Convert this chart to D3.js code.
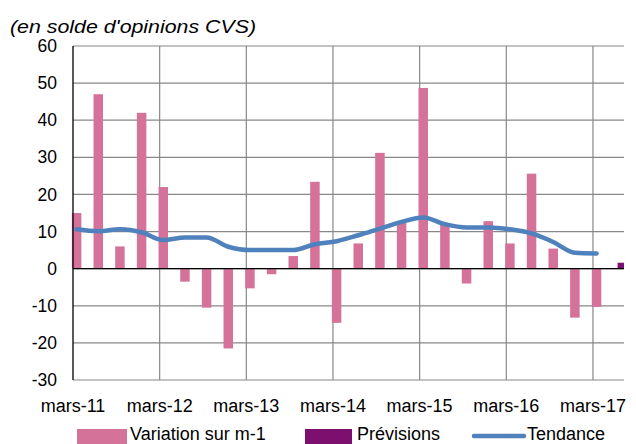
<!DOCTYPE html>
<html><head><meta charset="utf-8">
<script src="https://cdn.jsdelivr.net/npm/d3@7"></script>
<style>body{margin:0;background:#fff;}svg{display:block;font-family:"Liberation Sans",Arial,sans-serif;}</style>
</head><body>
<svg id="c" width="636" height="444"></svg>
<script>
// ---- data ----
const xTickMonths = [0, 12, 24, 36, 48, 60, 72];
const xTickLabels = ["mars-11","mars-12","mars-13","mars-14","mars-15","mars-16","mars-17"];
const yTicks = [-30,-20,-10,0,10,20,30,40,50,60];
// quarterly observations, month index from mars-11
const months = [0,3,6,9,12,15,18,21,24,27,30,33,36,39,42,45,48,51,54,57,60,63,66,69,72];
const variation = [15, 47, 6, 42, 22, -3.5, -10.5, -21.5, -5.3, -1.5, 3.4, 23.4, -14.6, 6.8, 31.2, 12.3, 48.7, 11.8, -4, 12.8, 6.8, 25.6, 5.4, -13.2, -10.3];
const tendance  = [10.6, 10.1, 10.6, 9.8, 7.7, 8.4, 8.4, 5.9, 5.0, 5.0, 5.0, 6.6, 7.4, 9.0, 10.8, 12.6, 13.8, 12.0, 11.1, 11.1, 10.6, 9.5, 7.2, 4.3, 4.1];
const previsionMonths = [75];
const previsions = [1.6];
const legendLabels = ["Variation sur m-1","Prévisions","Tendance"];

// ---- layout ----
const svg = d3.select("#c");
const L = 73, R = 624, T = 46, B = 380;
const x = d3.scaleLinear().domain([0, 76.3]).range([L, R]);
const y = d3.scaleLinear().domain([-30, 60]).range([B, T]);
const pink = "#D4729A", purple = "#7D0F6F", blue = "#4F81BD", grid = "#888888";
const fs = 17.5;

// gridlines horizontal
svg.append("g").selectAll("line").data(yTicks).join("line")
  .attr("x1", L).attr("x2", R).attr("y1", d => y(d)).attr("y2", d => y(d))
  .attr("stroke", grid).attr("stroke-width", 1.2);
// gridlines vertical
svg.append("g").selectAll("line").data(xTickMonths.slice(1)).join("line")
  .attr("x1", d => x(d)).attr("x2", d => x(d)).attr("y1", T).attr("y2", B)
  .attr("stroke", grid).attr("stroke-width", 1.2);

// clip
svg.append("clipPath").attr("id","pc").append("rect").attr("x", L).attr("y", T-5).attr("width", R-L).attr("height", B-T+10);

// bars
const bw = 9.5;
svg.append("g").selectAll("rect").data(variation).join("rect")
  .attr("x", (d,i) => x(months[i] + 0.5) - bw/2)
  .attr("width", bw)
  .attr("y", d => y(Math.max(0,d)))
  .attr("height", d => Math.abs(y(d) - y(0)))
  .attr("fill", pink);

svg.append("g").attr("clip-path","url(#pc)").selectAll("rect").data(previsions).join("rect")
  .attr("x", (d,i) => x(previsionMonths[i] + 0.9) - 3.5)
  .attr("width", 7)
  .attr("y", d => y(Math.max(0,d)))
  .attr("height", d => Math.abs(y(d) - y(0)))
  .attr("fill", purple);

// zero line & left axis
svg.append("line").attr("x1", L).attr("x2", R).attr("y1", y(0)).attr("y2", y(0)).attr("stroke", "#000").attr("stroke-width", 1.3);
svg.append("line").attr("x1", L).attr("x2", L).attr("y1", T).attr("y2", B).attr("stroke", "#000").attr("stroke-width", 1.3);

// trend line
const line = d3.line().x((d,i) => x(months[i] + 0.5)).y(d => y(d)).curve(d3.curveMonotoneX);
svg.append("path").datum(tendance).attr("d", line).attr("fill","none")
  .attr("stroke", blue).attr("stroke-width", 4.5).attr("stroke-linecap","round").attr("stroke-linejoin","round");

// y labels
svg.append("g").selectAll("text").data(yTicks).join("text")
  .attr("x", 57).attr("y", d => y(d)).attr("dy", "0.35em").attr("text-anchor","end")
  .attr("font-size", fs).attr("fill","#000").text(d => d);

// x labels
svg.append("g").selectAll("text").data(xTickMonths).join("text")
  .attr("x", d => x(d)).attr("y", 412).attr("text-anchor","middle")
  .attr("font-size", 18).attr("fill","#000").text((d,i) => xTickLabels[i]);

// title
svg.append("text").attr("x", 10).attr("y", 33).attr("font-size", 19).attr("font-style","italic")
  .attr("textLength", 246).attr("lengthAdjust","spacingAndGlyphs")
  .attr("fill","#000").text("(en solde d'opinions CVS)");

// legend
const lg = svg.append("g");
const ly = 440;
lg.append("rect").attr("x", 77).attr("y", 429).attr("width", 50).attr("height", 15).attr("fill", pink);
lg.append("text").attr("x", 130).attr("y", ly).attr("font-size", 18).text(legendLabels[0]);
lg.append("rect").attr("x", 305).attr("y", 429).attr("width", 47).attr("height", 15).attr("fill", purple);
lg.append("text").attr("x", 357).attr("y", ly).attr("font-size", 18).text(legendLabels[1]);
lg.append("line").attr("x1", 474).attr("x2", 524).attr("y1", 436).attr("y2", 436).attr("stroke", blue).attr("stroke-width", 4.5).attr("stroke-linecap","round");
lg.append("text").attr("x", 527).attr("y", ly).attr("font-size", 18).text(legendLabels[2]);
</script>
</body></html>
